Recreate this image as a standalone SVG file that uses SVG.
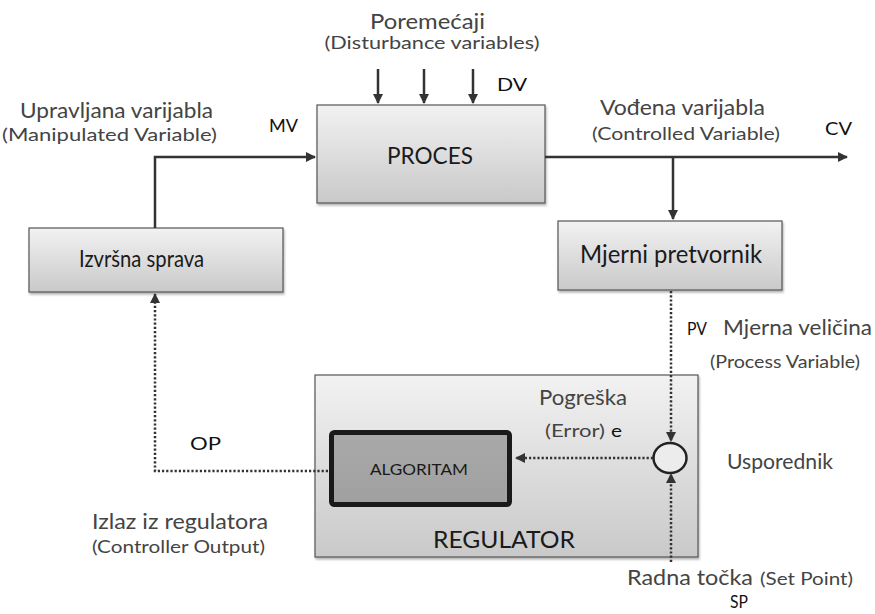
<svg xmlns="http://www.w3.org/2000/svg" width="875" height="614" viewBox="0 0 875 614">
<defs>
<linearGradient id="gBox" x1="0" y1="0" x2="0" y2="1">
<stop offset="0" stop-color="#f2f2f2"/>
<stop offset="1" stop-color="#c9c9c9"/>
</linearGradient>
<linearGradient id="gAlg" x1="0" y1="0" x2="0" y2="1">
<stop offset="0" stop-color="#a9a9a9"/>
<stop offset="1" stop-color="#a0a0a0"/>
</linearGradient>
<filter id="sh" x="-5%" y="-5%" width="110%" height="115%">
<feDropShadow dx="1" dy="2" stdDeviation="1.2" flood-color="#000" flood-opacity="0.3"/>
</filter>
<marker id="ar" viewBox="0 0 10 10" refX="9" refY="5" markerWidth="4" markerHeight="4" orient="auto" markerUnits="strokeWidth">
<path d="M0,0 L10,5 L0,10 z" fill="#333"/>
</marker>
</defs>
<style>
.box{fill:url(#gBox);stroke:#555;stroke-width:1.2;filter:url(#sh)}
.ln{fill:none;stroke:#333;stroke-width:2.5}
.dt{fill:none;stroke:#333;stroke-width:2.5;stroke-dasharray:2.2 2}
text{font-family:Lato,"Open Sans","Liberation Sans",sans-serif}
.lab{fill:#444;font-size:20.5px}
.sub{fill:#444;font-size:17.5px}
.abbr{fill:#111;font-size:17.5px}
.bt{fill:#1a1a1a}
</style>

<g id="proces">
<rect class="box" x="317" y="105" width="228" height="98"/>
<text class="bt" x="430" y="164" font-size="24" text-anchor="middle" textLength="86" lengthAdjust="spacingAndGlyphs">PROCES</text>
</g>

<g id="izvrsna-sprava">
<rect class="box" x="29" y="228" width="254" height="64"/>
<text class="bt" x="141.5" y="267" font-size="23" text-anchor="middle" textLength="125" lengthAdjust="spacingAndGlyphs">Izvršna sprava</text>
</g>

<g id="mjerni-pretvornik">
<rect class="box" x="558" y="221" width="224" height="69"/>
<text class="bt" x="671" y="263" font-size="25" text-anchor="middle" textLength="182" lengthAdjust="spacingAndGlyphs">Mjerni pretvornik</text>
</g>

<g id="regulator">
<rect class="box" x="315" y="375" width="383" height="182"/>
<text class="bt" x="504" y="548" font-size="24" text-anchor="middle" textLength="142" lengthAdjust="spacingAndGlyphs">REGULATOR</text>
</g>

<g id="algoritam">
<rect x="331.5" y="432.5" width="178" height="72" rx="3" fill="url(#gAlg)" stroke="#1a1a1a" stroke-width="5"/>
<text class="bt" x="419" y="475" font-size="16" text-anchor="middle" textLength="98" lengthAdjust="spacingAndGlyphs" fill="#222">ALGORITAM</text>
</g>

<g id="usporednik">
<ellipse cx="670" cy="458" rx="16.5" ry="15" fill="#ececec" stroke="#222" stroke-width="2.5"/>
</g>

<g id="connectors">
<line class="ln" x1="378" y1="69" x2="378" y2="103" marker-end="url(#ar)"/>
<line class="ln" x1="424" y1="69" x2="424" y2="103" marker-end="url(#ar)"/>
<line class="ln" x1="473" y1="69" x2="473" y2="103" marker-end="url(#ar)"/>
<polyline class="ln" points="155,228 155,157 315,157" marker-end="url(#ar)"/>
<line class="ln" x1="545" y1="157" x2="847" y2="157" marker-end="url(#ar)"/>
<line class="ln" x1="673" y1="157" x2="673" y2="219" marker-end="url(#ar)"/>
<line class="dt" x1="671" y1="291" x2="671" y2="441" marker-end="url(#ar)"/>
<line class="dt" x1="671" y1="562" x2="671" y2="474" marker-end="url(#ar)"/>
<line class="dt" x1="653" y1="458" x2="516" y2="458" marker-end="url(#ar)"/>
<polyline class="dt" points="328,471 155,471 155,294" marker-end="url(#ar)"/>
</g>

<g id="labels">
<text class="lab" x="427.5" y="29" text-anchor="middle" textLength="115" lengthAdjust="spacingAndGlyphs">Poremećaji</text>
<text class="sub" x="432" y="49" text-anchor="middle" textLength="215" lengthAdjust="spacingAndGlyphs">(Disturbance variables)</text>
<text class="abbr" x="497" y="91" textLength="30" lengthAdjust="spacingAndGlyphs">DV</text>
<text class="lab" x="116.5" y="118" text-anchor="middle" textLength="193" lengthAdjust="spacingAndGlyphs">Upravljana varijabla</text>
<text class="sub" x="109.5" y="141" text-anchor="middle" textLength="215" lengthAdjust="spacingAndGlyphs">(Manipulated Variable)</text>
<text class="abbr" x="269" y="132" textLength="29" lengthAdjust="spacingAndGlyphs">MV</text>
<text class="lab" x="682.5" y="115" text-anchor="middle" textLength="165" lengthAdjust="spacingAndGlyphs">Vođena varijabla</text>
<text class="sub" x="686" y="140" text-anchor="middle" textLength="188" lengthAdjust="spacingAndGlyphs">(Controlled Variable)</text>
<text class="abbr" x="825" y="135" textLength="27" lengthAdjust="spacingAndGlyphs">CV</text>
<text class="abbr" x="687" y="335" font-size="16" textLength="20" lengthAdjust="spacingAndGlyphs">PV</text>
<text class="lab" x="723" y="335" textLength="149" lengthAdjust="spacingAndGlyphs">Mjerna veličina</text>
<text class="sub" x="710" y="368" textLength="150" lengthAdjust="spacingAndGlyphs">(Process Variable)</text>
<text class="lab" x="583" y="405" text-anchor="middle" textLength="88" lengthAdjust="spacingAndGlyphs">Pogreška</text>
<text class="sub" x="545" y="437" textLength="60" lengthAdjust="spacingAndGlyphs">(Error)</text>
<text class="abbr" x="611" y="437" font-size="20" textLength="11" lengthAdjust="spacingAndGlyphs">e</text>
<text class="abbr" x="190" y="450" textLength="31" lengthAdjust="spacingAndGlyphs">OP</text>
<text class="lab" x="727" y="469" font-size="22" textLength="106" lengthAdjust="spacingAndGlyphs">Usporednik</text>
<text class="lab" x="180" y="529" text-anchor="middle" textLength="176" lengthAdjust="spacingAndGlyphs">Izlaz iz regulatora</text>
<text class="sub" x="178.5" y="553" text-anchor="middle" textLength="173" lengthAdjust="spacingAndGlyphs">(Controller Output)</text>
<text class="lab" x="627" y="585" font-size="21.5" textLength="126" lengthAdjust="spacingAndGlyphs">Radna točka</text>
<text class="sub" x="760" y="585" textLength="93" lengthAdjust="spacingAndGlyphs">(Set Point)</text>
<text class="abbr" x="730" y="608" textLength="18" lengthAdjust="spacingAndGlyphs">SP</text>
</g>
</svg>
